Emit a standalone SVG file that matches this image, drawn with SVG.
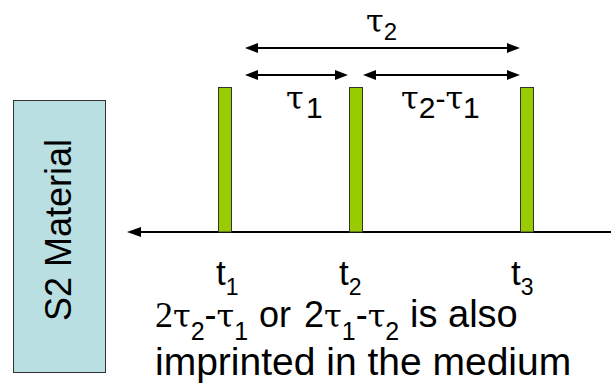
<svg xmlns="http://www.w3.org/2000/svg" width="611" height="385" viewBox="0 0 611 385">
<style>
.s{font-family:"Liberation Sans",Arial,sans-serif;fill:#000}
.g{font-family:"DejaVu Serif","Liberation Serif",serif;fill:#000}
.bar{fill:#99CC00;stroke:#333;stroke-width:1}
.ln{stroke:#000;stroke-width:2;fill:none}
.hd{fill:#000}
</style>
<g id="material">
<rect x="13.5" y="100.5" width="92" height="272" fill="#BADFE2" stroke="#333" stroke-width="1"/>
<text class="s" font-size="36" text-anchor="middle" transform="translate(71,230) rotate(-90)">S2 Material</text>
</g>
<g id="connectors">
<line class="ln" x1="139" y1="232" x2="611" y2="232" stroke-width="1.5"/>
<polygon class="hd" points="127,232 141,227 141,237"/>
<line class="ln" x1="255" y1="48" x2="510" y2="48"/>
<polygon class="hd" points="245,48 258,43 258,53"/>
<polygon class="hd" points="520,48 507,43 507,53"/>
<line class="ln" x1="255" y1="75" x2="338" y2="75"/>
<polygon class="hd" points="245,75 258,70 258,80"/>
<polygon class="hd" points="348,75 335,70 335,80"/>
<line class="ln" x1="373" y1="75" x2="510" y2="75"/>
<polygon class="hd" points="363,75 376,70 376,80"/>
<polygon class="hd" points="520,75 507,70 507,80"/>
</g>
<g id="pulse1"><rect class="bar" x="218.5" y="87.5" width="13" height="144.5"/></g>
<g id="pulse2"><rect class="bar" x="349.5" y="87.5" width="13" height="144.5"/></g>
<g id="pulse3"><rect class="bar" x="520.5" y="87.5" width="13" height="144.5"/></g>
<g id="labels">
<text y="32" font-size="32"><tspan class="g" x="366">τ</tspan><tspan class="s" font-size="24" dy="8">2</tspan></text>
<text y="109" font-size="32"><tspan class="g" x="286">τ</tspan><tspan class="s" font-size="30" dy="9" x="306">1</tspan></text>
<text y="109" font-size="32"><tspan class="g" x="401">τ</tspan><tspan class="s" font-size="30" dy="9">2</tspan><tspan class="s" font-size="30" dy="-9">-</tspan><tspan class="g">τ</tspan><tspan class="s" font-size="30" dy="9">1</tspan></text>
<text class="s" y="285" font-size="35"><tspan x="216">t</tspan><tspan font-size="23" dy="10">1</tspan></text>
<text class="s" y="285" font-size="35"><tspan x="339">t</tspan><tspan font-size="23" dy="10">2</tspan></text>
<text class="s" y="285" font-size="35"><tspan x="511">t</tspan><tspan font-size="23" dy="10">3</tspan></text>
<text y="327" font-size="36"><tspan font-family="Liberation Serif,serif" x="155">2</tspan><tspan class="g" font-size="32">τ</tspan><tspan class="s" font-size="25" dy="13">2</tspan><tspan class="s" dy="-13">-</tspan><tspan class="g" font-size="32">τ</tspan><tspan class="s" font-size="25" dy="13">1</tspan><tspan class="s" dy="-13" x="259">or</tspan><tspan class="s" x="304">2</tspan><tspan class="g" font-size="32">τ</tspan><tspan class="s" font-size="25" dy="13">1</tspan><tspan class="s" dy="-13">-</tspan><tspan class="g" font-size="32">τ</tspan><tspan class="s" font-size="25" dy="13">2</tspan><tspan class="s" font-size="38" dy="-13" x="410">is also</tspan></text>
<text class="s" x="155" y="375" font-size="39">imprinted in the medium</text>
</g>
</svg>
